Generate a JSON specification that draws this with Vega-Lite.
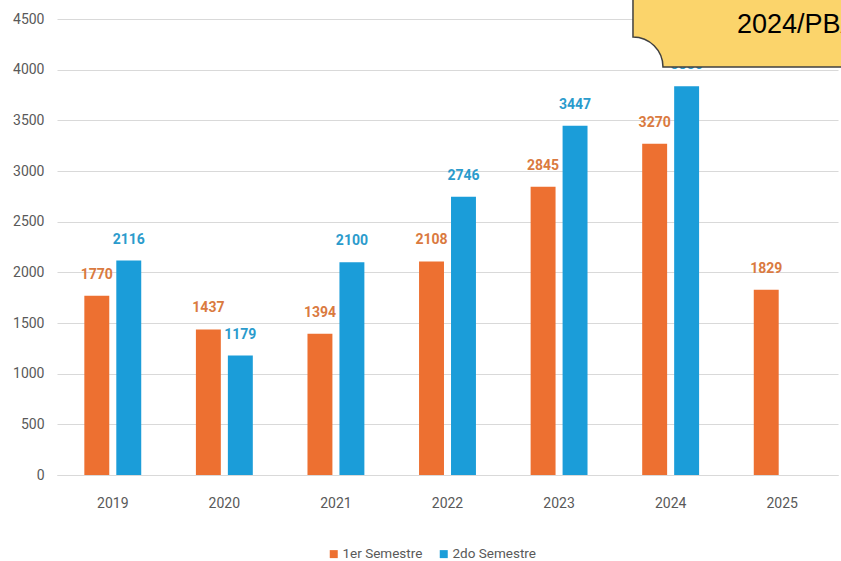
{
  "$schema": "https://vega.github.io/schema/vega-lite/v6.json",
  "autosize": {"type": "none"},
  "width": 781,
  "height": 456,
  "padding": {"left": 57, "top": 19, "right": 3, "bottom": 86},
  "background": "white",
  "config": {
    "view": {"stroke": null},
    "font": "Roboto, sans-serif"
  },
  "layer": [
    {
      "data": {
        "values": [
          {"year": "2019", "sem": "1er Semestre", "value": 1770},
          {"year": "2019", "sem": "2do Semestre", "value": 2116},
          {"year": "2020", "sem": "1er Semestre", "value": 1437},
          {"year": "2020", "sem": "2do Semestre", "value": 1179},
          {"year": "2021", "sem": "1er Semestre", "value": 1394},
          {"year": "2021", "sem": "2do Semestre", "value": 2100},
          {"year": "2022", "sem": "1er Semestre", "value": 2108},
          {"year": "2022", "sem": "2do Semestre", "value": 2746},
          {"year": "2023", "sem": "1er Semestre", "value": 2845},
          {"year": "2023", "sem": "2do Semestre", "value": 3447},
          {"year": "2024", "sem": "1er Semestre", "value": 3270},
          {"year": "2024", "sem": "2do Semestre", "value": 3836},
          {"year": "2025", "sem": "1er Semestre", "value": 1829}
        ]
      },
      "layer": [
        {
          "mark": {"type": "bar"},
          "encoding": {
            "x": {
              "field": "year", "type": "nominal",
              "scale": {"paddingInner": 0.49, "paddingOuter": 0.245},
              "axis": {
                "title": null, "labelAngle": 0, "ticks": false,
                "domainColor": "#d9d9d9", "labelColor": "#595959",
                "labelFontSize": 14, "labelPadding": 21
              }
            },
            "xOffset": {
              "field": "sem", "type": "nominal",
              "scale": {"paddingInner": 0.22, "paddingOuter": 0}
            },
            "y": {
              "field": "value", "type": "quantitative",
              "scale": {"domain": [0, 4500]},
              "axis": {
                "title": null, "format": "d",
                "values": [0, 500, 1000, 1500, 2000, 2500, 3000, 3500, 4000, 4500],
                "domain": false, "ticks": false, "gridColor": "#d9d9d9",
                "labelColor": "#595959", "labelFontSize": 14, "labelPadding": 13
              }
            },
            "color": {
              "field": "sem", "type": "nominal",
              "scale": {"domain": ["1er Semestre", "2do Semestre"], "range": ["#ED7031", "#1B9DD9"]},
              "legend": {
                "title": null, "orient": "none", "direction": "horizontal",
                "legendX": 270, "legendY": 528,
                "symbolType": "square", "symbolSize": 64, "labelFontSize": 13.5,
                "labelColor": "#595959", "columnPadding": 14, "labelOffset": 2,
                "symbolStrokeWidth": 0
              }
            }
          }
        },
        {
          "mark": {"type": "text", "baseline": "alphabetic", "dy": -17, "fontSize": 14, "fontWeight": "bold"},
          "encoding": {
            "x": {"field": "year", "type": "nominal"},
            "xOffset": {"field": "sem", "type": "nominal"},
            "y": {"field": "value", "type": "quantitative"},
            "text": {"field": "value", "type": "quantitative"},
            "fill": {
              "field": "sem", "type": "nominal",
              "scale": {"domain": ["1er Semestre", "2do Semestre"], "range": ["#DA7A40", "#2B9BCC"]},
              "legend": null
            }
          }
        }
      ]
    },
    {
      "data": {"values": [{"label": "2024/PBA"}]},
      "layer": [
        {
          "mark": {
            "type": "point", "filled": true, "opacity": 1, "clip": false,
            "shape": "M0,-0.3 L0,-1.6 L2.6,-1.6 L2.6,0 L0.3,0 A0.3,0.3 0 0 0 0,-0.3 Z",
            "size": 40000, "fill": "#FBD46B", "stroke": "#404040", "strokeWidth": 1.5
          },
          "encoding": {
            "x": {"datum": "2024", "bandPosition": -0.162},
            "y": {"datum": 4026}
          }
        },
        {
          "mark": {
            "type": "text", "align": "left", "baseline": "alphabetic", "clip": false,
            "font": "Liberation Sans, Arial, sans-serif", "fontSize": 27, "fill": "#000000"
          },
          "encoding": {
            "x": {"datum": "2025", "bandPosition": -0.295},
            "y": {"datum": 4362},
            "text": {"field": "label", "type": "nominal"}
          }
        }
      ]
    }
  ]
}
